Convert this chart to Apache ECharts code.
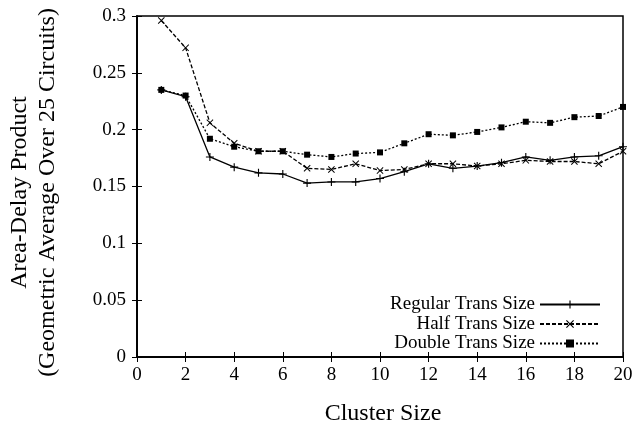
<!DOCTYPE html>
<html>
<head>
    <meta charset="UTF-8">
    <title>Area-Delay vs Cluster Size</title>
    <script src="https://cdn.jsdelivr.net/npm/echarts@6/dist/echarts.min.js"></script>
    <style>
        body, html {
            margin: 0;
            padding: 0;
            background: #fff;
        }
        #chart {
            width: 634px;
            height: 426px;
        }
    </style>
</head>
<body>
<div id="chart"></div>
<script>
    // data
    var clusterSize = [1, 2, 3, 4, 5, 6, 7, 8, 9, 10, 11, 12, 13, 14, 15, 16, 17, 18, 19, 20];
    var regular = [0.235, 0.229, 0.176, 0.167, 0.162, 0.161, 0.153, 0.154, 0.154, 0.157,
        0.163, 0.170, 0.166, 0.168, 0.171, 0.176, 0.173, 0.176, 0.177, 0.185];
    var half = [0.296, 0.272, 0.206, 0.188, 0.181, 0.181, 0.166, 0.165, 0.170, 0.164,
        0.165, 0.170, 0.170, 0.168, 0.170, 0.173, 0.172, 0.172, 0.170, 0.181];
    var dbl = [0.235, 0.230, 0.192, 0.185, 0.181, 0.181, 0.178, 0.176, 0.179, 0.180,
        0.188, 0.196, 0.195, 0.198, 0.202, 0.207, 0.206, 0.211, 0.212, 0.220];
    var seriesNames = ['Regular Trans Size', 'Half Trans Size', 'Double Trans Size'];

    var FONT = '"Liberation Serif", "DejaVu Serif", serif';
    var plusPath = 'path://M4.3,0H5.7V10H4.3Z M0,4.3H10V5.7H0Z';
    var crossPath = 'path://M0,1L1,0L5,4L9,0L10,1L6,5L10,9L9,10L5,6L1,10L0,9L4,5Z';

    function pairs(vals) {
        return clusterSize.map(function (x, i) { return [x, vals[i]]; });
    }

    function mkSeries(name, vals, symbol, size, dash) {
        return {
            name: name,
            type: 'line',
            data: pairs(vals),
            symbol: symbol,
            symbolSize: size,
            showSymbol: true,
            color: '#000',
            itemStyle: {color: '#000'},
            lineStyle: {color: '#000', width: 1.3, type: dash},
            animation: false
        };
    }

    var chart = echarts.init(document.getElementById('chart'), null, {renderer: 'canvas'});

    var ticks = {show: true, inside: true, length: 5, lineStyle: {color: '#000', width: 1}};

    chart.setOption({
        backgroundColor: '#fff',
        animation: false,
        grid: {
            left: 137, right: 11, top: 16, bottom: 69,
            outerBoundsMode: 'none',
            containLabel: false,
            show: true, borderColor: '#000', borderWidth: 1.5
        },
        legend: {
            orient: 'vertical',
            right: 33,
            top: 295,
            padding: 0,
            align: 'right',
            itemWidth: 60,
            itemHeight: 10,
            itemGap: 0.5,
            textStyle: {fontFamily: FONT, fontSize: 19, lineHeight: 19, color: '#000'},
            data: seriesNames
        },
        xAxis: [{
            type: 'value',
            min: 0, max: 20, interval: 2,
            name: 'Cluster Size',
            nameLocation: 'middle',
            nameGap: 45,
            nameTextStyle: {fontFamily: FONT, fontSize: 24, color: '#000', padding: [0, 0, 0, 6]},
            axisLine: {lineStyle: {color: '#000', width: 1.5}},
            axisTick: ticks,
            axisLabel: {fontFamily: FONT, fontSize: 19, color: '#000', margin: 9},
            splitLine: {show: false}
        }, {
            type: 'value',
            position: 'top',
            min: 0, max: 20, interval: 2,
            axisLine: {lineStyle: {color: '#000', width: 1.5}},
            axisTick: ticks,
            axisLabel: {show: false},
            splitLine: {show: false}
        }],
        yAxis: [{
            type: 'value',
            min: 0, max: 0.3, interval: 0.05,
            name: 'Area-Delay Product\n(Geometric Average Over 25 Circuits)',
            nameLocation: 'middle',
            nameRotate: 90,
            nameGap: 75,
            nameTextStyle: {fontFamily: FONT, fontSize: 24, color: '#000', lineHeight: 28, padding: [0, 12, 0, 0]},
            axisLine: {lineStyle: {color: '#000', width: 1.5}},
            axisTick: ticks,
            axisLabel: {fontFamily: FONT, fontSize: 19, color: '#000', margin: 11},
            splitLine: {show: false}
        }, {
            type: 'value',
            position: 'right',
            min: 0, max: 0.3, interval: 0.05,
            axisLine: {lineStyle: {color: '#000', width: 1.5}},
            axisTick: ticks,
            axisLabel: {show: false},
            splitLine: {show: false}
        }],
        series: [
            mkSeries(seriesNames[0], regular, plusPath, 8, 'solid'),
            mkSeries(seriesNames[1], half, crossPath, 7, [4, 2]),
            mkSeries(seriesNames[2], dbl, 'rect', 6, [2, 2])
        ]
    });
</script>
</body>
</html>
